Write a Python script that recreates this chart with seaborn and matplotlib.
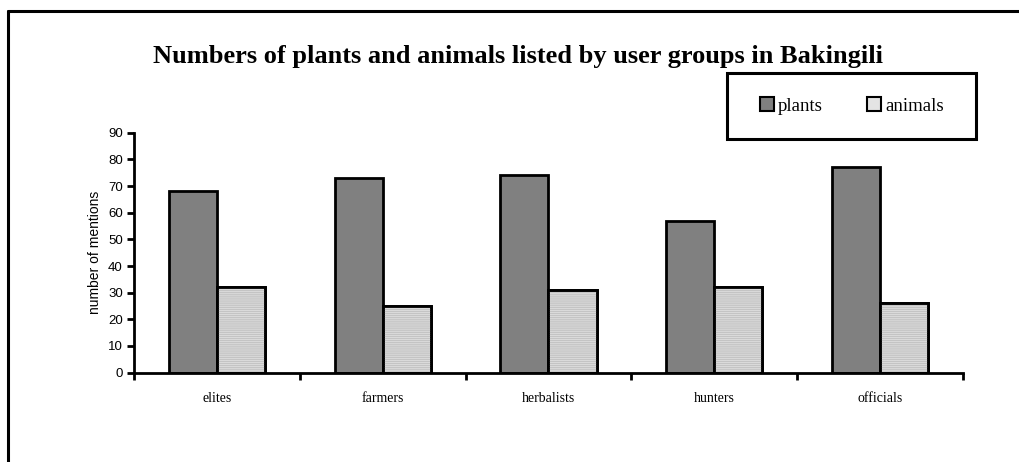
import matplotlib
matplotlib.use("Agg")
import matplotlib.pyplot as plt
from matplotlib.patches import Rectangle, Patch
from matplotlib.lines import Line2D
import seaborn as sns
import pandas as pd

groups = ["elites", "farmers", "herbalists", "hunters", "officials"]
plants = [68, 73, 74, 57, 77]
animals = [32, 25, 31, 32, 26]
series = ["plants", "animals"]
y_ticks = [0, 10, 20, 30, 40, 50, 60, 70, 80, 90]

df = pd.DataFrame({
    "group": groups * 2,
    "series": ["plants"] * len(groups) + ["animals"] * len(groups),
    "value": plants + animals,
})

sns.set_theme(style="white")
plt.rcParams["font.family"] = ["Liberation Serif", "DejaVu Serif"]
plt.rcParams.update({"text.color": "black", "axes.labelcolor": "black",
                     "xtick.color": "black", "ytick.color": "black"})

fig = plt.figure(figsize=(10.19, 4.62), dpi=100)
ax = fig.add_axes([0.1315, 0.1935, 0.8135, 0.519])

palette = {"plants": "#808080", "animals": "#e4e4e4"}
sns.barplot(data=df, x="group", y="value", hue="series", hue_order=series,
            order=groups, palette=palette, width=0.58, gap=0,
            edgecolor="black", linewidth=2, saturation=1, legend=False, ax=ax)

# fine horizontal line texture on the light bars
for patch in ax.patches[len(groups):]:
    x0, y0 = patch.get_x(), patch.get_y()
    w, h = patch.get_width(), patch.get_height()
    ax.add_patch(Rectangle((x0, y0), w, h, facecolor="none", edgecolor="#c4c4c4",
                           hatch="--------", linewidth=0, zorder=patch.get_zorder() + 0.1))
    ax.add_patch(Rectangle((x0, y0), w, h, facecolor="none", edgecolor="black",
                           linewidth=2, zorder=patch.get_zorder() + 0.2))

ax.set_ylim(0, 90)
ax.set_xlim(-0.5, len(groups) - 0.5)
ax.set_yticks(y_ticks)
ax.set_yticklabels([str(t) for t in y_ticks], family="Liberation Sans", fontsize=9.5)
ax.set_xticks([i + 0.5 for i in range(-1, len(groups))], minor=False)
ax.set_xticklabels([""] * (len(groups) + 1))
ax.set_xticks(range(len(groups)), minor=True)
ax.set_xticklabels(groups, minor=True, fontsize=10)
ax.tick_params(axis="x", which="major", direction="out", length=5, width=2,
               bottom=True, color="black")
ax.tick_params(axis="x", which="minor", length=0, pad=14)
ax.tick_params(axis="y", direction="out", length=5, width=2, left=True, color="black",
               pad=3)

ax.set_xlabel("")
ax.set_ylabel("number of mentions", family="Liberation Sans", fontsize=10, labelpad=4)

for side in ["top", "right"]:
    ax.spines[side].set_visible(False)
for side in ["left", "bottom"]:
    ax.spines[side].set_color("black")
    ax.spines[side].set_linewidth(2)

fig.text(0.508, 0.878, "Numbers of plants and animals listed by user groups in Bakingili",
         ha="center", va="center", fontsize=19, fontweight="bold", color="black")

# legend box
fig.patches.append(Rectangle((0.7135, 0.699), 0.2445, 0.143, transform=fig.transFigure,
                             facecolor="white", edgecolor="black", linewidth=2.2))
handles = [Patch(facecolor=palette[s], edgecolor="black", linewidth=1.5, label=s)
           for s in series]
fig.legend(handles=handles, loc="center", bbox_to_anchor=(0.7135, 0.699, 0.2445, 0.143),
           ncol=2, frameon=False, fontsize=13.5, handlelength=0.75, handleheight=0.75,
           handletextpad=0.2, columnspacing=2.4, borderaxespad=0, labelcolor="black")

# outer frame along the top and left edges
fig.add_artist(Line2D([0.0075, 1.0], [0.976, 0.976], transform=fig.transFigure,
                      color="black", linewidth=2.2))
fig.add_artist(Line2D([0.0075, 0.0075], [0.0, 0.976], transform=fig.transFigure,
                      color="black", linewidth=2.2))

fig.savefig("out.png", dpi=100)
